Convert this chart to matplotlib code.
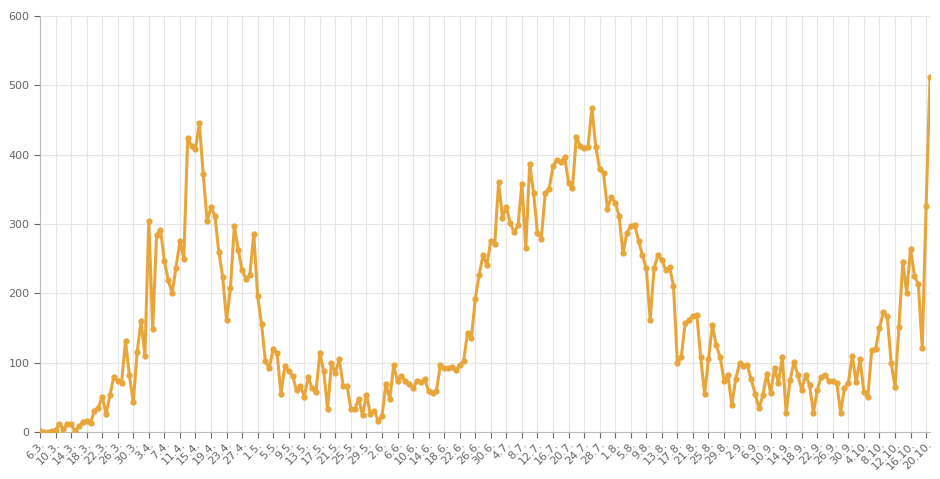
import pandas as pd
import matplotlib.pyplot as plt

# Daily values, 6.3. - 21.10.
values = [
    1, 0, 0, 1, 3, 12, 4, 11, 11, 1, 8, 14, 16, 13, 31, 35, 51, 26, 53, 80,
    73, 71, 131, 82, 43, 115, 160, 110, 305, 148, 284, 292, 247, 219, 200, 237, 275, 250,
    424, 412, 408, 446, 372, 304, 324, 312, 260, 224, 161, 207, 297, 263, 233, 221,
    227, 286, 196, 156, 102, 92, 120, 114, 55, 95, 88, 81, 60, 67, 51, 79, 63, 57,
    114, 88, 33, 100, 85, 105,
    67, 67, 33, 33, 48, 24, 54, 26, 31, 16, 23, 69, 47, 96, 73, 81, 73, 69, 64, 73,
    72, 76, 59, 56, 59, 96, 93, 92, 94, 89, 96, 102, 143, 136, 192, 227, 255, 241,
    276, 271, 360, 309, 325, 301, 288, 298, 358, 265, 387, 345, 287, 279, 345, 351,
    383, 393, 389, 397, 359, 352, 426, 412, 410, 411, 467, 411, 379, 373, 322, 339,
    331, 312, 258, 287, 297, 299, 276,
    255, 236, 162, 236, 255, 248, 234, 238, 211, 99, 108, 157, 161, 168, 169, 108,
    55, 105, 154, 125, 108, 74, 82, 39, 76, 99, 95, 96, 76, 55, 34, 53, 84, 56, 92,
    71, 108, 27, 75,
    101, 82, 61, 82, 68, 28, 60, 80, 82, 74, 73, 71, 28, 64, 71, 110, 72, 106, 57,
    50, 118, 119, 150, 173, 167, 100, 65, 151, 245, 201, 264, 225, 213, 121, 326, 512,
]
dates = pd.date_range("2020-03-06", periods=len(values), freq="D")
tick_pos = list(range(0, len(values), 4))
tick_labels = [f"{dates[i].day}.{dates[i].month}." for i in tick_pos]

color = "#E8A63A"
fig = plt.figure(figsize=(9.4, 4.79), dpi=100)
ax = fig.add_axes([40 / 940, 47 / 479, 890 / 940, 416 / 479])

x = list(range(len(values)))
ax.plot(x, values, color=color, lw=2.2, marker="o", ms=3.5, zorder=3)

ax.set_xlim(0, len(values) - 1)
ax.set_ylim(0, 600)
ax.set_yticks(range(0, 601, 100))
ax.set_xticks(tick_pos)
ax.set_xticklabels(tick_labels, rotation=45, ha="right", rotation_mode="anchor")
ax.tick_params(axis="both", labelsize=8, colors="#666666", length=4)
ax.tick_params(axis="x", pad=1)
ax.grid(True, color="#e5e5e5", lw=0.8)
for s in ["top", "right"]:
    ax.spines[s].set_visible(False)
for s in ["left", "bottom"]:
    ax.spines[s].set_color("#bbbbbb")

fig.savefig("out.png", dpi=100)
